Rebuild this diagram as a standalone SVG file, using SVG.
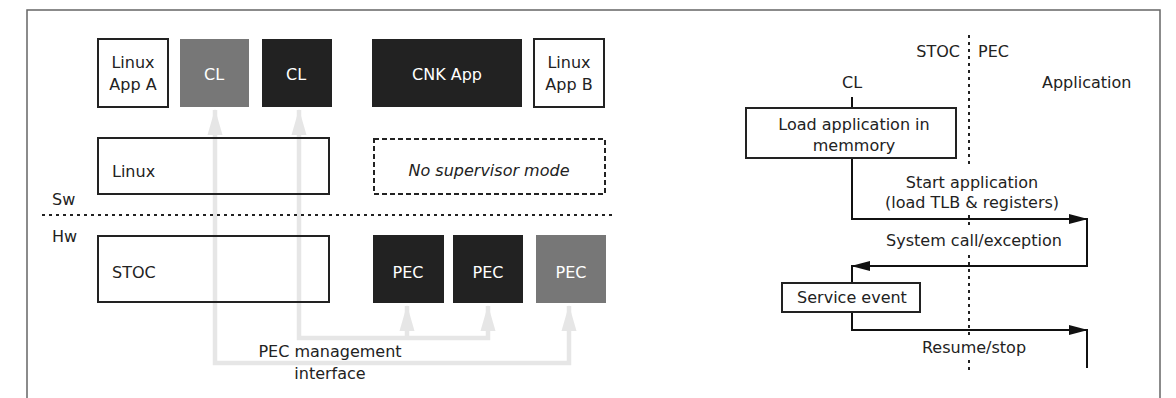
<svg xmlns="http://www.w3.org/2000/svg" width="1176" height="398" viewBox="0 0 1176 398">
<defs>
<style>
text{font-family:"DejaVu Sans","Liberation Sans",sans-serif;font-size:16px;fill:#222}
.w{fill:#fff}
.c{text-anchor:middle}
.box{fill:#fff;stroke:#222;stroke-width:2}
.open{fill:none;stroke:#222;stroke-width:2}
.dark{fill:#222}
.gray{fill:#777}
.gc{fill:none;stroke:#e6e6e6;stroke-width:4.5}
.bc{fill:none;stroke:#111;stroke-width:2}
.dot{stroke:#222;stroke-width:2;stroke-dasharray:3 4}
</style>
<marker id="ga" markerUnits="userSpaceOnUse" markerWidth="26" markerHeight="16" refX="25" refY="8" orient="auto-start-reverse"><path d="M0,0.5 L26,8 L0,15.5 z" fill="#e6e6e6"/></marker>
<marker id="ba" markerUnits="userSpaceOnUse" markerWidth="19" markerHeight="11" refX="18" refY="5.5" orient="auto"><path d="M0,0.5 L19,5.5 L0,10.5 z" fill="#111"/></marker>
</defs>
<rect width="1176" height="398" fill="#fff"/>
<path d="M27,398 V10 H1160 V398" fill="none" stroke="#666" stroke-width="1.5"/>

<g id="connectors">
<path class="gc" d="M215,110 V363 H569 V306" marker-start="url(#ga)" marker-end="url(#ga)"/>
<path class="gc" d="M299,110 V338 H488 V306" marker-start="url(#ga)" marker-end="url(#ga)"/>
<path class="gc" d="M407,338 V306" marker-end="url(#ga)"/>
<path class="bc" d="M852,97 V108"/>
<path class="bc" d="M852,158 V219 H1087" marker-end="url(#ba)"/>
<path class="bc" d="M1087,218 V266 H852" marker-end="url(#ba)"/>
<path class="bc" d="M852,265 V283"/>
<path class="bc" d="M852,312 V330 H1087" marker-end="url(#ba)"/>
<path class="bc" d="M1087,329 V368"/>
</g>

<g id="separator">
<line class="dot" x1="42" y1="215" x2="616" y2="215"/>
<text x="52" y="205">Sw</text>
<text x="52" y="242">Hw</text>
</g>

<g id="linux-app-a"><rect class="box" x="98" y="39" width="70" height="68"/><text class="c" x="133" y="68">Linux</text><text class="c" x="133" y="90">App A</text></g>
<g id="cl-gray"><rect class="gray" x="180" y="39" width="69" height="68"/><text class="c w" x="214" y="80">CL</text></g>
<g id="cl-dark"><rect class="dark" x="262" y="39" width="70" height="68"/><text class="c w" x="296" y="80">CL</text></g>
<g id="cnk-app"><rect class="dark" x="372" y="39" width="150" height="68"/><text class="c w" x="447" y="80">CNK App</text></g>
<g id="linux-app-b"><rect class="box" x="534" y="39" width="70" height="68"/><text class="c" x="569" y="68">Linux</text><text class="c" x="569" y="90">App B</text></g>
<g id="linux"><rect class="open" x="98" y="138" width="231" height="56"/><text x="112" y="177">Linux</text></g>
<g id="no-supervisor"><rect x="374" y="139" width="231" height="55" fill="#fff" stroke="#222" stroke-width="2" stroke-dasharray="5 3"/><text class="c" x="489" y="176" font-style="italic">No supervisor mode</text></g>
<g id="stoc"><rect class="open" x="98" y="236" width="231" height="66"/><text x="112" y="278">STOC</text></g>
<g id="pec1"><rect class="dark" x="373" y="235" width="71" height="68"/><text class="c w" x="408" y="278">PEC</text></g>
<g id="pec2"><rect class="dark" x="453" y="235" width="70" height="68"/><text class="c w" x="488" y="278">PEC</text></g>
<g id="pec3"><rect class="gray" x="536" y="235" width="70" height="68"/><text class="c w" x="571" y="278">PEC</text></g>
<g id="pec-mgmt"><text class="c" x="330" y="357">PEC management</text><text class="c" x="330" y="379">interface</text></g>

<g id="seq-divider">
<line class="dot" x1="969" y1="35" x2="969" y2="167"/>
<line class="dot" x1="969" y1="215" x2="969" y2="228"/>
<line class="dot" x1="969" y1="255" x2="969" y2="336"/>
<line class="dot" x1="969" y1="360" x2="969" y2="374"/>
<text x="960" y="57" text-anchor="end">STOC</text>
<text x="978" y="57">PEC</text>
</g>
<g id="cl-label"><text class="c" x="852" y="88">CL</text></g>
<g id="app-label"><text x="1042" y="88">Application</text></g>
<g id="load-app"><rect class="box" x="746" y="108" width="210" height="50"/><text class="c" x="854" y="130">Load application in</text><text class="c" x="854" y="151">memmory</text></g>
<g id="start-label"><text class="c" x="972" y="188">Start application</text><text class="c" x="972" y="208">(load TLB &amp; registers)</text></g>
<g id="syscall-label"><text class="c" x="974" y="246">System call/exception</text></g>
<g id="service-event"><rect class="box" x="782" y="283" width="138" height="29"/><text class="c" x="852" y="303">Service event</text></g>
<g id="resume-label"><text class="c" x="974" y="353">Resume/stop</text></g>
</svg>
